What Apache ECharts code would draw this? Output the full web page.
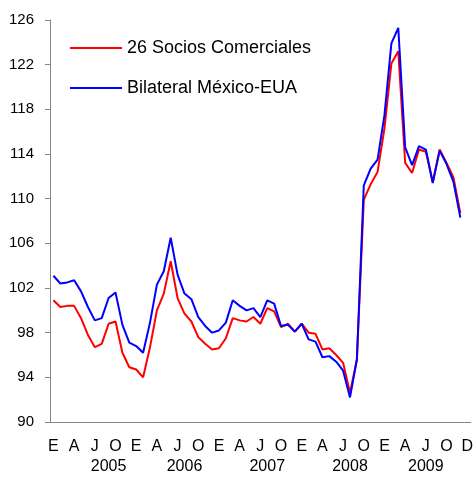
<!DOCTYPE html>
<html>
<head>
<meta charset="utf-8">
<script src="https://cdn.jsdelivr.net/npm/echarts@6/dist/echarts.min.js"></script>
<style>
  html, body { margin: 0; padding: 0; background: #fff; }
  #chart { width: 476px; height: 478px; }
</style>
</head>
<body>
<div id="chart"></div>
<script>
// Monthly index, January 2005 to December 2009
const seriesNames = ['26 Socios Comerciales', 'Bilateral México-EUA'];

const sociosComerciales = [
  100.9, 100.3, 100.4, 100.4, 99.3, 97.8, 96.7, 97.0, 98.8, 99.0, 96.2, 94.9,
  94.7, 94.0, 96.7, 100.0, 101.5, 104.4, 101.1, 99.7, 99.0, 97.6, 97.0, 96.5,
  96.6, 97.5, 99.3, 99.1, 99.0, 99.4, 98.8, 100.2, 99.9, 98.5, 98.8, 98.1,
  98.8, 98.0, 97.9, 96.5, 96.6, 96.0, 95.3, 92.6, 95.6, 109.9, 111.3, 112.4,
  116.3, 122.1, 123.2, 113.2, 112.3, 114.4, 114.2, 111.5, 114.4, 113.2, 111.9, 108.7
];

const bilateralMexicoEUA = [
  103.1, 102.4, 102.5, 102.7, 101.7, 100.3, 99.1, 99.3, 101.1, 101.6, 98.7, 97.1,
  96.8, 96.2, 98.9, 102.3, 103.5, 106.5, 103.2, 101.5, 101.0, 99.4, 98.6, 98.0,
  98.2, 98.9, 100.9, 100.4, 100.0, 100.2, 99.4, 100.9, 100.6, 98.6, 98.7, 98.1,
  98.8, 97.4, 97.2, 95.8, 95.9, 95.4, 94.6, 92.2, 95.6, 111.2, 112.7, 113.5,
  117.5, 123.9, 125.3, 114.6, 113.0, 114.7, 114.4, 111.4, 114.3, 113.1, 111.5, 108.3
];

// Quarter initials shown under the axis, one every three months
const quarterLabels = [
  'E', 'A', 'J', 'O', 'E', 'A', 'J', 'O', 'E', 'A', 'J', 'O',
  'E', 'A', 'J', 'O', 'E', 'A', 'J', 'O', 'D'
];
const yearLabels = ['2005', '2006', '2007', '2008', '2009'];
// month (counted from January 2005) under which each year caption sits
const yearMonth = [8, 19, 31, 43, 54];

const yTicks = { min: 90, max: 126, step: 4 };

// 60 months plus one trailing slot for the closing "D" caption
const slotCount = sociosComerciales.length + 1;
const monthSlots = [];
for (let i = 0; i < slotCount; i++) monthSlots.push(String(i));

const quarterAxis = monthSlots.map((_, i) => (i % 3 === 0 ? quarterLabels[i / 3] || '' : ''));
const yearAxis = monthSlots.map((_, i) => {
  const k = yearMonth.indexOf(i);
  return k >= 0 ? yearLabels[k] : '';
});

const FONT = '"Liberation Sans", Arial, sans-serif';
const AXIS_GREY = '#868686';

const chart = echarts.init(document.getElementById('chart'), null, { renderer: 'canvas' });

chart.setOption({
  animation: false,
  backgroundColor: '#ffffff',
  grid: { left: 50, right: 3, top: 20, bottom: 56 },
  legend: {
    orient: 'vertical',
    left: 65,
    top: 34,
    icon: 'rect',
    itemWidth: 52,
    itemHeight: 2,
    itemGap: 22,
    textStyle: { fontFamily: FONT, fontSize: 18, color: '#000' },
    data: seriesNames
  },
  xAxis: [
    {
      type: 'category',
      data: quarterAxis,
      boundaryGap: true,
      axisLine: { lineStyle: { color: AXIS_GREY, width: 1 } },
      axisTick: { show: false },
      axisLabel: {
        interval: 0,
        margin: 17,
        fontFamily: FONT,
        fontSize: 16,
        color: '#000'
      },
      splitLine: { show: false }
    },
    {
      type: 'category',
      data: yearAxis,
      position: 'bottom',
      offset: 22,
      boundaryGap: true,
      axisLine: { show: false },
      axisTick: { show: false },
      axisLabel: {
        interval: 0,
        margin: 15,
        fontFamily: FONT,
        fontSize: 16,
        color: '#000'
      },
      splitLine: { show: false }
    }
  ],
  yAxis: {
    type: 'value',
    min: yTicks.min,
    max: yTicks.max,
    interval: yTicks.step,
    axisLine: { show: true, lineStyle: { color: AXIS_GREY, width: 1 } },
    axisTick: { show: true, length: 5, lineStyle: { color: AXIS_GREY } },
    axisLabel: {
      margin: 16,
      fontFamily: FONT,
      fontSize: 15,
      color: '#000'
    },
    splitLine: { show: false }
  },
  series: [
    {
      name: seriesNames[0],
      type: 'line',
      data: sociosComerciales,
      symbol: 'none',
      color: '#FF0000',
      lineStyle: { color: '#FF0000', width: 2 }
    },
    {
      name: seriesNames[1],
      type: 'line',
      data: bilateralMexicoEUA,
      symbol: 'none',
      color: '#0000FF',
      lineStyle: { color: '#0000FF', width: 2 }
    }
  ]
});
</script>
</body>
</html>
